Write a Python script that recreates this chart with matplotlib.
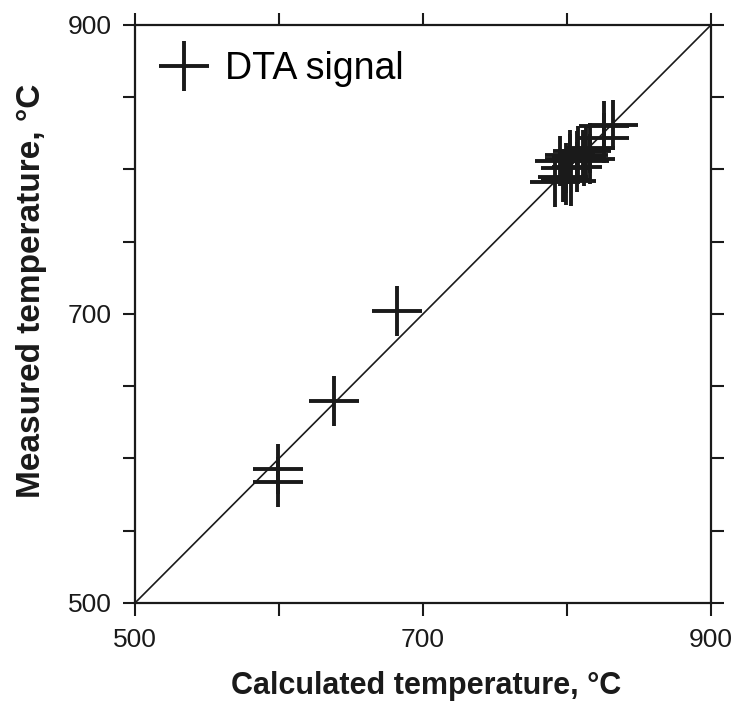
import numpy as np
import matplotlib.pyplot as plt

plt.rcParams['font.family'] = ['Liberation Sans', 'DejaVu Sans']

# calculated vs measured temperatures (°C)
calc_t = [599, 599, 638, 682,
          792, 797, 799, 803, 807, 802, 807, 811, 816, 813, 826, 832, 826,
          795, 802, 808, 816, 799, 812]
meas_t = [593, 584, 640, 702,
          791, 795, 793, 792, 802, 807, 809, 810, 807, 813, 830, 831, 822,
          806, 810, 813, 815, 801, 806]

x_ticks = [500, 600, 700, 800, 900]
x_labels = ['500', '', '700', '', '900']
y_ticks = [500, 550, 600, 650, 700, 750, 800, 850, 900]
y_labels = ['500', '', '', '', '700', '', '', '', '900']

fig = plt.figure(figsize=(7.36, 7.04), dpi=100)
ax = fig.add_axes([0.1834, 0.1435, 0.7826, 0.821])

ax.plot([500, 900], [500, 900], color='#1a1a1a', lw=1.2, zorder=1)
ax.plot(calc_t, meas_t, ls='none', marker='+', ms=36, mew=2.8,
        color='#1a1a1a', label='DTA signal', zorder=2)

ax.set_xlim(500, 900)
ax.set_ylim(500, 900)
ax.set_xticks(x_ticks)
ax.set_xticklabels(x_labels)
ax.set_yticks(y_ticks)
ax.set_yticklabels(y_labels)
ax.tick_params(direction='out', length=9, width=1.5, top=True, right=True,
               labelsize=19, colors='#1a1a1a')
ax.tick_params(axis='x', pad=9)
ax.tick_params(axis='y', pad=8)
for s in ax.spines.values():
    s.set_linewidth(1.6)
    s.set_color('#1a1a1a')

ax.set_xlabel('Calculated temperature, °C', fontsize=22, fontweight='bold',
              color='#1a1a1a')
ax.set_ylabel('Measured temperature, °C', fontsize=24, fontweight='bold',
              color='#1a1a1a')
ax.xaxis.set_label_coords(0.505, -0.118)
ax.yaxis.set_label_coords(-0.153, 0.54)

ax.legend(loc='upper left', frameon=False, fontsize=27, handlelength=1.2,
          handletextpad=0.5, borderaxespad=0.3, bbox_to_anchor=(0.0, 1.0))

fig.savefig('out.png', dpi=100)
